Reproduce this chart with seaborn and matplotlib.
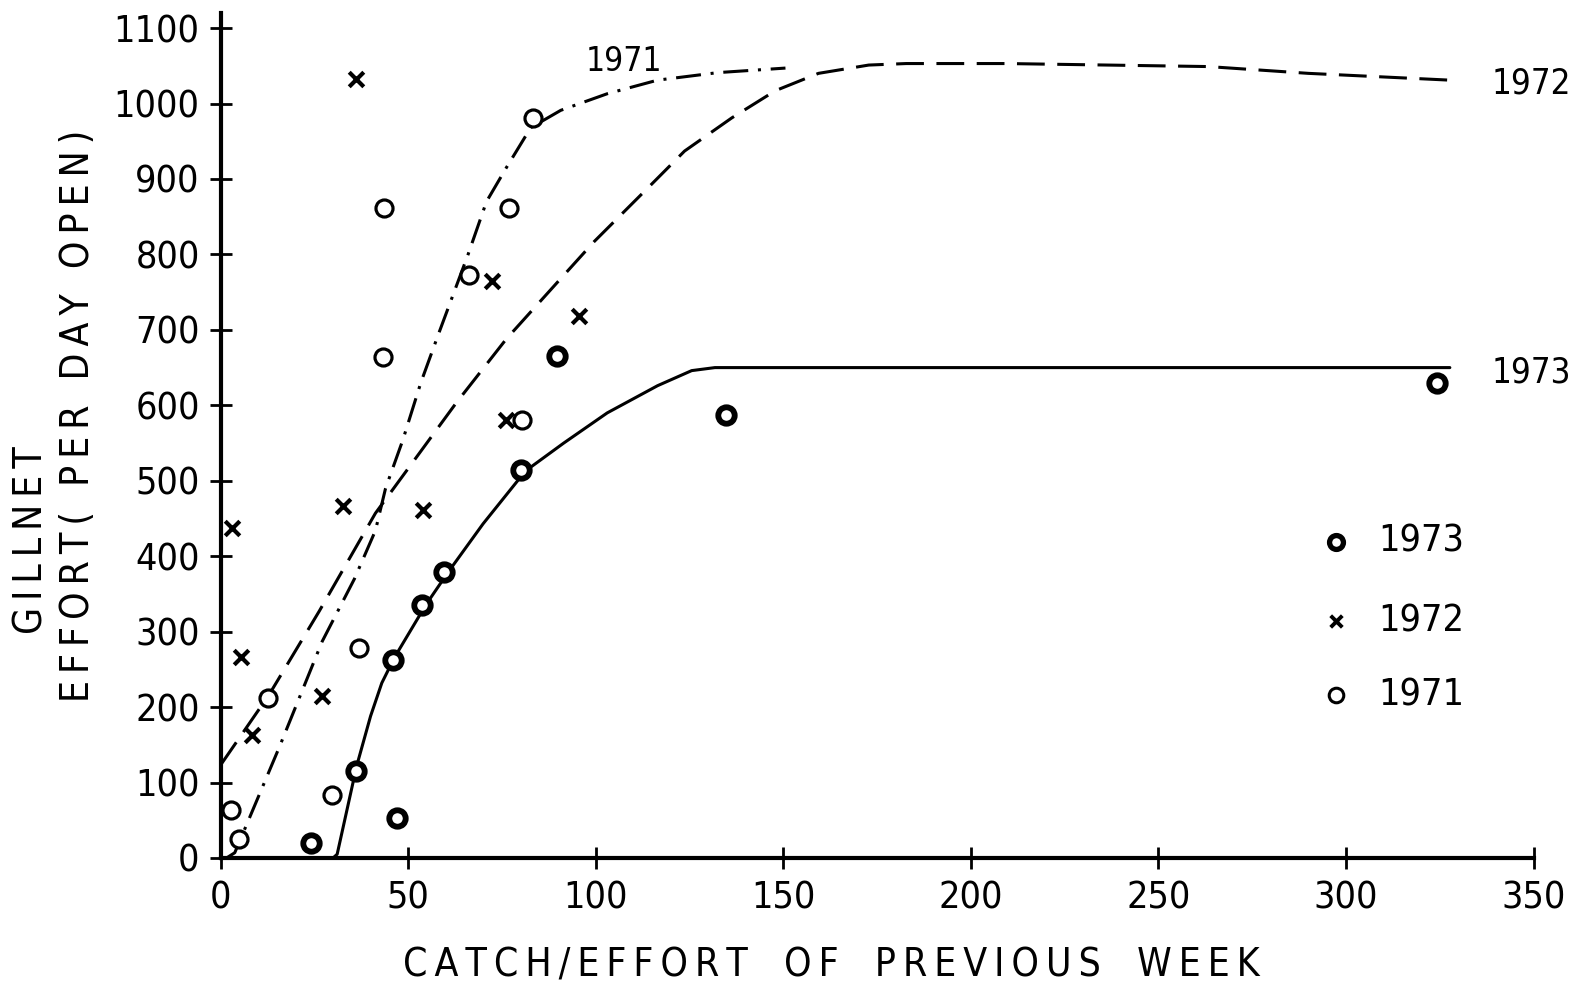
import numpy as np
import pandas as pd
import matplotlib
matplotlib.use("Agg")
import matplotlib.pyplot as plt
import seaborn as sns

# ---- data ----
x_1971 = [2.7, 4.8, 12.6, 29.8, 37.0, 43.2, 43.7, 66.3, 77.0, 83.2, 80.5]
y_1971 = [63, 25, 212, 83, 279, 664, 861, 773, 861, 981, 581]

x_1972 = [36.2, 3.0, 5.4, 8.3, 27.1, 32.7, 54.0, 72.5, 95.5, 76.0]
y_1972 = [1033, 437, 266, 163, 215, 467, 461, 765, 718, 581]

x_1973 = [24.2, 36.2, 45.9, 53.7, 59.6, 80.2, 47.0, 89.6, 134.7, 324.2]
y_1973 = [20, 115, 263, 336, 379, 514, 53, 665, 587, 630]

curve_x_1971 = [1.6, 3.8, 15.6, 27.1, 35.7, 41.3, 44.0, 48.6, 53.4, 58.0, 66.0, 70.9, 76.2,
                82.7, 90.7, 103.1, 116.5, 132.6, 150.6]
curve_y_1971 = [0, 7, 146, 287, 370, 434, 490, 554, 630, 693, 800, 870, 915,
                968, 991, 1013, 1031, 1041, 1047]

curve_x_1972 = [0, 12.9, 26.3, 41.3, 62.8, 76.2, 90.7, 99.6, 114.9, 123.7, 136.3, 147.9,
                159.4, 172.8, 182.8, 209.6, 263.3, 290.0, 327.7]
curve_y_1972 = [123, 216, 327, 457, 603, 688, 768, 817, 893, 937, 981, 1017,
                1040, 1051, 1053, 1053, 1049, 1040, 1031]

curve_x_1973 = [30.0, 31.1, 36.3, 40.0, 43.0, 46.4, 54.8, 60.7, 70.0, 81.3, 91.5, 103.1, 116.5,
                125.6, 131.8, 327.7]
curve_y_1973 = [0, 5, 122, 188, 232, 266, 336, 379, 443, 513, 550, 590, 626,
                646, 650, 650]

x_ticks = [0, 50, 100, 150, 200, 250, 300, 350]
y_ticks = [0, 100, 200, 300, 400, 500, 600, 700, 800, 900, 1000, 1100]
legend_years = ["1973", "1972", "1971"]
x_label_words = ["CATCH/EFFORT", "OF", "PREVIOUS", "WEEK"]
y_label_line1 = ["GILLNET"]
y_label_line2 = ["EFFORT(", "PER", "DAY", "OPEN)"]

# ---- style ----
sns.set_theme(style="white")
plt.rcParams["font.family"] = ["DejaVu Sans"]
plt.rcParams["font.stretch"] = "condensed"
plt.rcParams["text.color"] = "black"
plt.rcParams["lines.scale_dashes"] = False

W, H = 1579, 986
fig = plt.figure(figsize=(W / 100, H / 100), dpi=100)
ax = fig.add_axes([220.5 / W, 1 - 858 / H, (1533.5 - 220.5) / W, (858 - 13) / H])

lw = 2.2
df71 = pd.DataFrame({"x": curve_x_1971, "y": curve_y_1971})
df72 = pd.DataFrame({"x": curve_x_1972, "y": curve_y_1972})
df73 = pd.DataFrame({"x": curve_x_1973, "y": curve_y_1973})

sns.lineplot(data=df71, x="x", y="y", sort=False, ax=ax, color="black", lw=lw, estimator=None)
ax.lines[-1].set_dashes((18, 7, 2.2, 7))
sns.lineplot(data=df72, x="x", y="y", sort=False, ax=ax, color="black", lw=lw, estimator=None)
ax.lines[-1].set_dashes((20, 9))
sns.lineplot(data=df73, x="x", y="y", sort=False, ax=ax, color="black", lw=lw, estimator=None)
for ln in ax.lines:
    ln.set_solid_joinstyle("round")
    ln.set_dash_joinstyle("round")

# scatter points
sns.scatterplot(x=x_1971, y=y_1971, ax=ax, marker="o", s=150, facecolor="white",
                edgecolor="black", linewidth=2.3, zorder=5)
sns.scatterplot(x=x_1972, y=y_1972, ax=ax, marker="x", s=110, color="black",
                linewidth=3.0, zorder=5)
sns.scatterplot(x=x_1973, y=y_1973, ax=ax, marker="o", s=140, facecolor="white",
                edgecolor="black", linewidth=4.2, zorder=5)

# legend (drawn in data space to mimic original)
leg_x = 297.4
leg_y = [419, 314, 216]
sns.scatterplot(x=[leg_x], y=[leg_y[0]], ax=ax, marker="o", s=100, facecolor="white",
                edgecolor="black", linewidth=3.8, zorder=5, clip_on=False)
sns.scatterplot(x=[leg_x], y=[leg_y[1]], ax=ax, marker="x", s=70, color="black",
                linewidth=2.8, zorder=5, clip_on=False)
sns.scatterplot(x=[leg_x], y=[leg_y[2]], ax=ax, marker="o", s=110, facecolor="white",
                edgecolor="black", linewidth=2.2, zorder=5, clip_on=False)
for yy, lab in zip(leg_y, legend_years):
    ax.text(308.5, yy, lab, fontsize=27, va="center", ha="left")

# curve labels
ax.text(107.6, 1056, "1971", fontsize=24, ha="center", va="center")
ax.text(338.8, 1027, "1972", fontsize=25, ha="left", va="center", clip_on=False)
ax.text(338.8, 643, "1973", fontsize=25, ha="left", va="center", clip_on=False)

ax.set_xlim(0, 350)
ax.set_ylim(0, 1120)
ax.set_xticks(x_ticks)
ax.set_yticks(y_ticks)
ax.set_xticklabels([str(t) for t in x_ticks], fontsize=27)
ax.set_yticklabels([str(t) for t in y_ticks], fontsize=27)
ax.tick_params(axis="both", direction="inout", length=16, width=2.0, color="black",
               labelcolor="black", bottom=True, left=True)
ax.tick_params(axis="x", pad=8)
ax.tick_params(axis="y", pad=7)

for s in ["top", "right"]:
    ax.spines[s].set_visible(False)
for s in ["left", "bottom"]:
    ax.spines[s].set_color("black")
    ax.spines[s].set_linewidth(3.0)

ax.set_xlabel("")
ax.set_ylabel("")


def spaced(words, gap="  "):
    thin = "\u2009"
    return (thin + gap + thin).join(thin.join(w) for w in words)


fig.text(831 / W, 1 - 965 / H, spaced(x_label_words, gap="  "), fontsize=28,
         ha="center", va="center")
fig.text(32 / W, 1 - 540 / H, spaced(y_label_line1), fontsize=28, rotation=90,
         ha="center", va="center")
fig.text(78 / W, 1 - 416 / H, spaced(y_label_line2, gap=" "), fontsize=28, rotation=90,
         ha="center", va="center")

fig.savefig("out.png", dpi=100, facecolor="white")
